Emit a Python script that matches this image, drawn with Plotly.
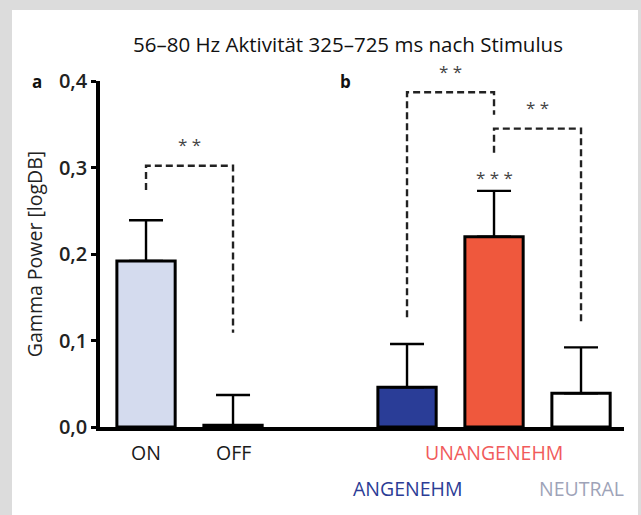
import plotly.graph_objects as go

# ---- data ----
categories = ["ON", "OFF", "ANGENEHM", "UNANGENEHM", "NEUTRAL"]
positions = [0, 1, 3, 4, 5]
values = [0.192, 0.002, 0.046, 0.220, 0.039]
errors = [0.047, 0.035, 0.050, 0.053, 0.053]
bar_colors = ["#d4dbee", "#ffffff", "#2a3d97", "#ef583d", "#ffffff"]
label_colors = ["#1a1a1a", "#1a1a1a", "#2b3c96", "#f15b5b", "#9ea3b8"]
label_rows = [0, 0, 1, 0, 1]
y_ticks = [0.0, 0.1, 0.2, 0.3, 0.4]

# significance brackets: (left pos, right pos, left end y, top y, right end y, label)
brackets = [
    (0, 1, 0.274, 0.302, 0.109, "* *"),
    (3, 4, 0.127, 0.387, 0.361, "* *"),
    (4, 5, 0.317, 0.345, 0.120, "* *"),
]
single_marks = [(4, 0.289, "* * *")]

FONT = "Open Sans"
W, H = 641, 515
ML, MR, MT, MB = 100, 17, 81, 88

fig = go.Figure()

fig.add_trace(go.Bar(
    x=positions, y=values, width=0.67,
    marker=dict(color=bar_colors, line=dict(color="black", width=3)),
    error_y=dict(type="data", symmetric=False, array=errors,
                 arrayminus=[0] * len(errors), color="black",
                 thickness=2.4, width=17),
    showlegend=False, hoverinfo="skip",
))

for (x0, x1, y0, yt, y1, lab) in brackets:
    fig.add_trace(go.Scatter(
        x=[x0, x0, x1, x1], y=[y0, yt, yt, y1], mode="lines",
        line=dict(color="#222222", width=2.4, dash="7px,4px"),
        showlegend=False, hoverinfo="skip", cliponaxis=False,
    ))
    fig.add_annotation(x=(x0 + x1) / 2, y=yt, yshift=21, text=lab,
                       showarrow=False, xref="x", yref="y",
                       font=dict(family=FONT, size=17, color="#444444"))

for (x, y, lab) in single_marks:
    fig.add_annotation(x=x, y=y, text=lab, showarrow=False, xref="x", yref="y",
                       font=dict(family=FONT, size=17, color="#444444"))

for p, c, col, row in zip(positions, categories, label_colors, label_rows):
    fig.add_annotation(x=p, y=0, yref="paper", xref="x", yanchor="middle",
                       yshift=-25 - 36 * row, text=c, showarrow=False,
                       font=dict(family=FONT, size=19.5, color=col, weight=500))

pw, ph = W - ML - MR, H - MT - MB
def px_x(px):
    return (px - ML) / pw
def px_y(py):
    return (H - MB - py) / ph

fig.add_shape(type="rect", xref="paper", yref="paper", layer="below",
              x0=px_x(12), x1=px_x(638), y0=px_y(520), y1=px_y(10),
              fillcolor="white", line=dict(width=0))
fig.add_annotation(x=px_x(37), y=px_y(68), xref="paper", yref="paper",
                   xanchor="center", text="<b>a</b>", showarrow=False,
                   font=dict(family=FONT, size=17, color="#111"))
fig.add_annotation(x=px_x(345), y=px_y(68), xref="paper", yref="paper",
                   xanchor="center", text="<b>b</b>", showarrow=False,
                   font=dict(family=FONT, size=17, color="#111"))

fig.update_layout(
    width=W, height=H,
    margin=dict(l=ML, r=MR, t=MT, b=MB),
    paper_bgcolor="#dcdcdc", plot_bgcolor="white",
    separators=",.",
    title=dict(text="56–80 Hz Aktivität 325–725 ms nach Stimulus",
               x=px_x(348), xref="paper", xanchor="center",
               y=1 - 45 / H, yanchor="middle",
               font=dict(family=FONT, size=20.5, color="#111111")),
    xaxis=dict(range=[-0.529, 5.494], showline=True, linecolor="black",
               linewidth=3.5, showticklabels=False, ticks="", showgrid=False,
               zeroline=False, fixedrange=True),
    yaxis=dict(range=[0, 0.4], tickvals=y_ticks, tickformat=".1f",
               showline=True, linecolor="black", linewidth=3.5, ticks="outside",
               ticklen=5, tickwidth=3, tickcolor="black", showgrid=False,
               zeroline=False, fixedrange=True,
               tickfont=dict(family=FONT, size=20, color="#222222", weight=600),
               title=dict(text="Gamma Power [logDB]", standoff=12,
                          font=dict(family=FONT, size=19.5, color="#222222"))),
)

fig.write_html("out.html", config={"displayModeBar": False},
               post_script="document.body.style.margin='0';")
